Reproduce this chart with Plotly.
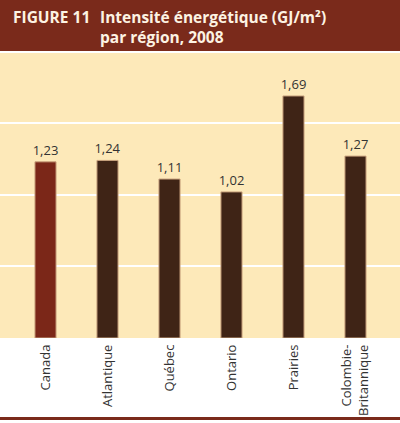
import plotly.graph_objects as go

categories = ["Canada", "Atlantique", "Québec", "Ontario", "Prairies", "Colombie-<br>Britannique"]
values = [1.23, 1.24, 1.11, 1.02, 1.69, 1.27]
bar_colors = ["#7B2718", "#3F2416", "#3F2416", "#3F2416", "#3F2416", "#3F2416"]
title_line1 = "FIGURE 11"
title_line2a = "Intensité énergétique (GJ/m²)"
title_line2b = "par région, 2008"

W, H = 400, 423
T, B = 53, 85
ph = H - T - B

def py(pix):
    return 1 - (pix - T) / ph

fig = go.Figure()
fig.add_trace(go.Bar(
    x=list(range(len(categories))),
    y=values,
    width=0.34,
    marker=dict(color=bar_colors, line=dict(color="#C9A27E", width=1)),
    texttemplate="%{y:.2f}",
    textposition="outside",
    constraintext="none",
    textfont=dict(family="Open Sans", size=13, color="#333333"),
    cliponaxis=False,
))

shapes = [
    dict(type="rect", xref="paper", yref="paper", x0=0, x1=1, y0=py(51), y1=py(0),
         fillcolor="#7A2A1B", line=dict(width=0), layer="below"),
    dict(type="rect", xref="paper", yref="paper", x0=0, x1=1, y0=py(420), y1=py(417),
         fillcolor="#7A2A1B", line=dict(width=0), layer="below"),
]

annotations = [
    dict(xref="paper", yref="paper", x=11 / W, y=py(4), xanchor="left", yanchor="top",
         text="<b>" + title_line1 + "</b>", showarrow=False,
         font=dict(family="Open Sans", size=15.5, color="#FDF3E3")),
    dict(xref="paper", yref="paper", x=98 / W, y=py(4), xanchor="left", yanchor="top",
         text="<b>" + title_line2a + "<br>" + title_line2b + "</b>", showarrow=False, align="left",
         font=dict(family="Open Sans", size=15.5, color="#FDF3E3")),
]

fig.update_layout(
    width=W, height=H,
    margin=dict(l=0, r=0, t=T, b=B, pad=0),
    paper_bgcolor="white",
    plot_bgcolor="#FDE9B9",
    separators=", ",
    showlegend=False,
    shapes=shapes,
    annotations=annotations,
    xaxis=dict(
        tickmode="array",
        tickvals=list(range(len(categories))),
        ticktext=categories,
        tickangle=-90,
        range=[-0.734, 5.718],
        showgrid=False, zeroline=False, showline=False,
        ticks="",
        ticklabelstandoff=3,
        tickfont=dict(family="Open Sans", size=13, color="#333333"),
    ),
    yaxis=dict(
        range=[0, 1.99],
        tickvals=[0.5, 1.0, 1.5],
        showticklabels=False,
        showgrid=True, gridcolor="white", gridwidth=2,
        zeroline=False, showline=False, ticks="",
    ),
)

fig.write_html("out.html")
